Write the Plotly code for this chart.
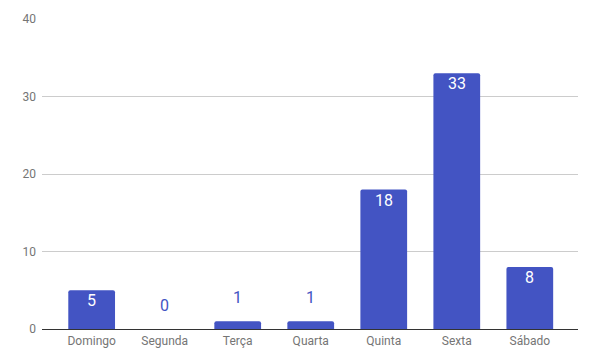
import plotly.graph_objects as go

categories = ["Domingo", "Segunda", "Terça", "Quarta", "Quinta", "Sexta", "Sábado"]
values = [5, 0, 1, 1, 18, 33, 8]
y_ticks = [0, 10, 20, 30, 40]

BAR = "#4354C3"
inside_min = 5

fig = go.Figure()
fig.add_trace(go.Bar(
    x=categories, y=values,
    marker=dict(color=BAR, cornerradius=2, line=dict(width=0)),
    width=0.64,
    hoverinfo="skip",
))

for c, v in zip(categories, values):
    if v >= inside_min:
        fig.add_annotation(x=c, y=v, text=str(v), showarrow=False, yanchor="top",
                           yshift=1, font=dict(color="white", size=16, family="Roboto"),
                           xref="x", yref="y")
    else:
        fig.add_annotation(x=c, y=v, text=str(v), showarrow=False, yshift=24,
                           font=dict(color=BAR, size=16, family="Roboto"),
                           xref="x", yref="y")

fig.update_layout(
    width=593, height=364,
    margin=dict(l=34, r=23, t=11, b=43, autoexpand=False),
    paper_bgcolor="white", plot_bgcolor="white",
    font=dict(family="Roboto", color="#757575", size=12),
    showlegend=False,
)
fig.update_xaxes(range=[-0.68, 6.66], showgrid=False, ticks="", showline=False,
                 automargin=False, ticklabelstandoff=3,
                 tickfont=dict(size=12, color="#757575"))
fig.update_yaxes(range=[0, 40], tickvals=y_ticks, showgrid=True, gridcolor="#cccccc",
                 gridwidth=1, zeroline=True, zerolinecolor="#333333", zerolinewidth=1,
                 automargin=False, ticks="", ticklabelstandoff=5,
                 tickfont=dict(size=12, color="#757575"))

fig.write_html("out.html")
